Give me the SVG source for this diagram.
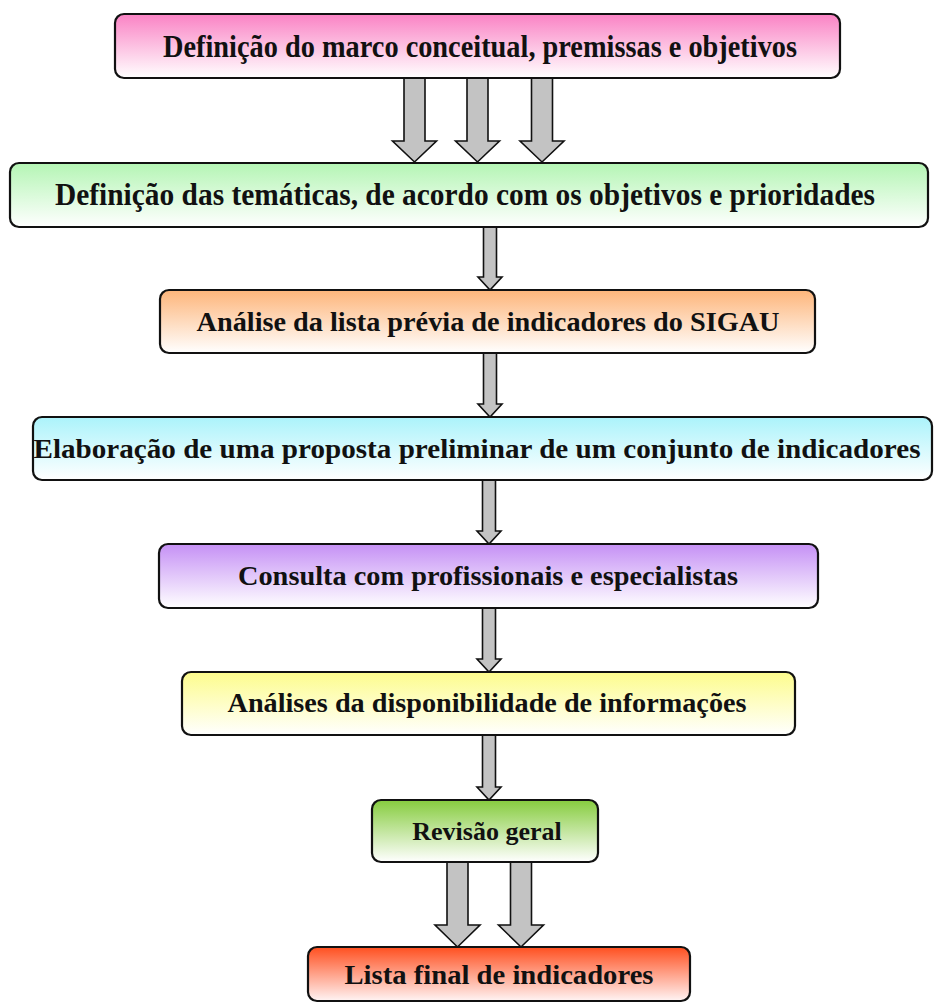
<svg xmlns="http://www.w3.org/2000/svg" width="935" height="1006" viewBox="0 0 935 1006">
<style>
.box{stroke:#111;stroke-width:2.2}
.t{font-family:"Liberation Serif","Times New Roman",serif;font-weight:bold;font-size:28px;fill:#111;text-anchor:middle}
.tc{font-size:31px}
.arr{fill:#c3c3c3;stroke:#111;stroke-width:1.6;stroke-linejoin:miter}
</style>
<defs>
<linearGradient id="gPink" x1="0" y1="0" x2="0" y2="1"><stop offset="0" stop-color="#fa82c4"/><stop offset="1" stop-color="#ffffff"/></linearGradient>
<linearGradient id="gGreen" x1="0" y1="0" x2="0" y2="1"><stop offset="0" stop-color="#b4f5b4"/><stop offset="1" stop-color="#ffffff"/></linearGradient>
<linearGradient id="gOrange" x1="0" y1="0" x2="0" y2="1"><stop offset="0" stop-color="#fdb57a"/><stop offset="1" stop-color="#ffffff"/></linearGradient>
<linearGradient id="gCyan" x1="0" y1="0" x2="0" y2="1"><stop offset="0" stop-color="#abf3fb"/><stop offset="1" stop-color="#ffffff"/></linearGradient>
<linearGradient id="gPurple" x1="0" y1="0" x2="0" y2="1"><stop offset="0" stop-color="#c590f5"/><stop offset="1" stop-color="#ffffff"/></linearGradient>
<linearGradient id="gYellow" x1="0" y1="0" x2="0" y2="1"><stop offset="0" stop-color="#fdfc8c"/><stop offset="1" stop-color="#ffffff"/></linearGradient>
<linearGradient id="gLime" x1="0" y1="0" x2="0" y2="1"><stop offset="0" stop-color="#86cc3e"/><stop offset="1" stop-color="#ffffff"/></linearGradient>
<linearGradient id="gRed" x1="0" y1="0" x2="0" y2="1"><stop offset="0" stop-color="#ff4f1f"/><stop offset="1" stop-color="#fff4f4"/></linearGradient>
</defs>

<g id="connectors">
  <path class="arr" d="M404,78 H425 V141 H436.5 L414.5,162 L392.5,141 H404 Z"/>
  <path class="arr" d="M467,78 H488 V141 H499.5 L477.5,162 L455.5,141 H467 Z"/>
  <path class="arr" d="M531.5,78 H552.5 V141 H564 L542,162 L520,141 H531.5 Z"/>
  <path class="arr" d="M483.5,227 H496.5 V277 H502 L490,290 L478,277 H483.5 Z"/>
  <path class="arr" d="M483.5,353 H496.5 V404 H502 L490,417 L478,404 H483.5 Z"/>
  <path class="arr" d="M482.5,480 H495.5 V531 H501 L489,544 L477,531 H482.5 Z"/>
  <path class="arr" d="M482.5,608 H495.5 V659 H501 L489,672 L477,659 H482.5 Z"/>
  <path class="arr" d="M482.5,735 H495.5 V787 H501 L489,800 L477,787 H482.5 Z"/>
  <path class="arr" d="M447,862 H468 V925 H480 L457.5,947 L435,925 H447 Z"/>
  <path class="arr" d="M510.5,862 H531.5 V925 H543.5 L521,947 L498.5,925 H510.5 Z"/>
</g>

<g id="n1">
  <rect class="box" x="115" y="14" width="725" height="64" rx="9" fill="url(#gPink)"/>
  <text class="t tc" x="480" y="57" textLength="634" lengthAdjust="spacingAndGlyphs">Definição do marco conceitual, premissas e objetivos</text>
</g>
<g id="n2">
  <rect class="box" x="10" y="163" width="918" height="64" rx="9" fill="url(#gGreen)"/>
  <text class="t tc" x="465" y="205" textLength="820" lengthAdjust="spacingAndGlyphs">Definição das temáticas, de acordo com os objetivos e prioridades</text>
</g>
<g id="n3">
  <rect class="box" x="160" y="290" width="655" height="63" rx="9" fill="url(#gOrange)"/>
  <text class="t" x="488" y="331" textLength="583" lengthAdjust="spacingAndGlyphs">Análise da lista prévia de indicadores do SIGAU</text>
</g>
<g id="n4">
  <rect class="box" x="33" y="417" width="899" height="63" rx="9" fill="url(#gCyan)"/>
  <text class="t" x="477" y="458" textLength="887" lengthAdjust="spacingAndGlyphs">Elaboração de uma proposta preliminar de um conjunto de indicadores</text>
</g>
<g id="n5">
  <rect class="box" x="159" y="544" width="659" height="64" rx="9" fill="url(#gPurple)"/>
  <text class="t" x="488" y="585" textLength="500" lengthAdjust="spacingAndGlyphs">Consulta com profissionais e especialistas</text>
</g>
<g id="n6">
  <rect class="box" x="182" y="672" width="613" height="63" rx="9" fill="url(#gYellow)"/>
  <text class="t" x="487" y="712" textLength="519" lengthAdjust="spacingAndGlyphs">Análises da disponibilidade de informações</text>
</g>
<g id="n7">
  <rect class="box" x="372" y="800" width="226" height="62" rx="9" fill="url(#gLime)"/>
  <text class="t" x="487" y="840" style="font-size:26px">Revisão geral</text>
</g>
<g id="n8">
  <rect class="box" x="308" y="947" width="382" height="54" rx="9" fill="url(#gRed)"/>
  <text class="t" x="499" y="984" textLength="309" lengthAdjust="spacingAndGlyphs">Lista final de indicadores</text>
</g>
</svg>
